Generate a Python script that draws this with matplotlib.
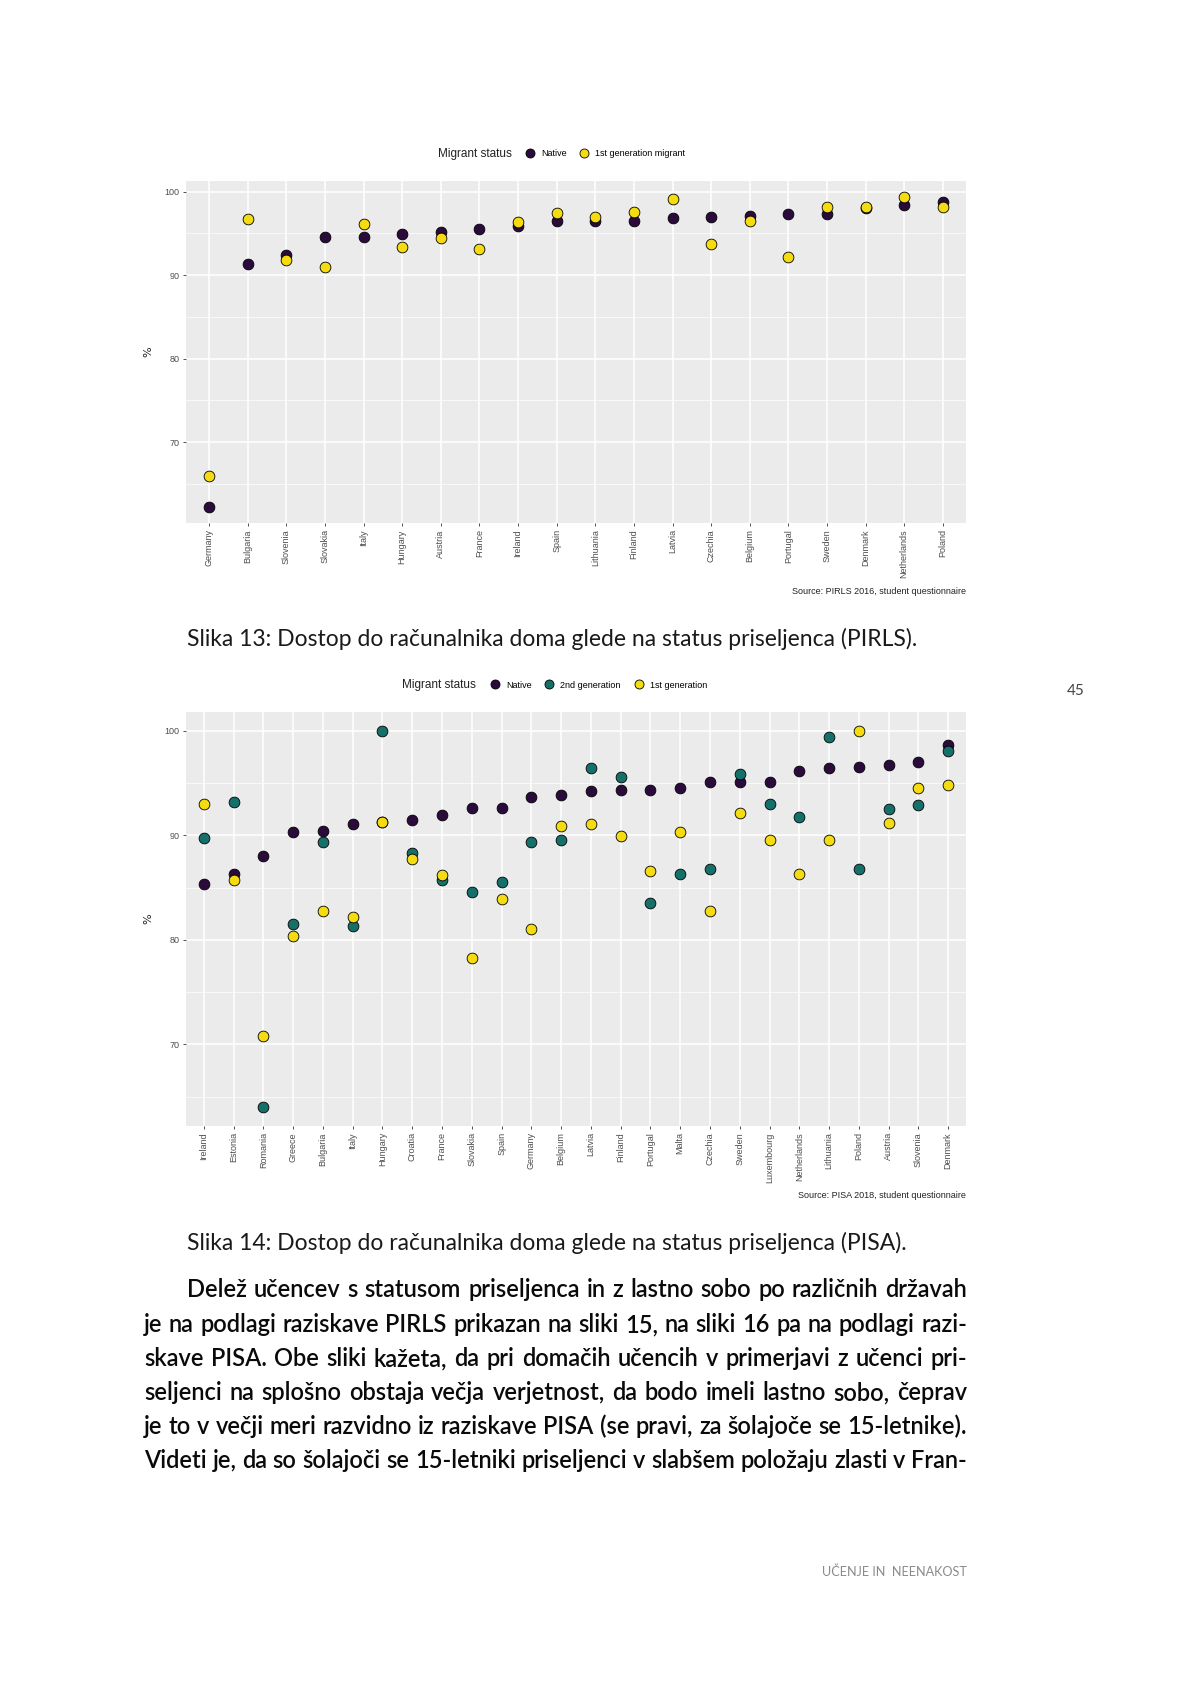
import numpy as np
import matplotlib.pyplot as plt
from matplotlib.lines import Line2D

W, H = 1182, 1684

# PIRLS 2016 - share with a computer at home (%)
pirls_countries = ["Germany", "Bulgaria", "Slovenia", "Slovakia", "Italy", "Hungary", "Austria",
                   "France", "Ireland", "Spain", "Lithuania", "Finland", "Latvia", "Czechia",
                   "Belgium", "Portugal", "Sweden", "Denmark", "Netherlands", "Poland"]
pirls_native = [62.2, 91.3, 92.4, 94.6, 94.6, 94.9, 95.2, 95.5, 95.9, 96.5,
                96.5, 96.5, 96.8, 97.0, 97.1, 97.3, 97.3, 98.0, 98.4, 98.8]
pirls_first = [66.0, 96.7, 91.8, 91.0, 96.1, 93.4, 94.4, 93.1, 96.4, 97.4,
               97.0, 97.5, 99.1, 93.7, 96.5, 92.2, 98.2, 98.2, 99.4, 98.2]

# PISA 2018
pisa_countries = ["Ireland", "Estonia", "Romania", "Greece", "Bulgaria", "Italy", "Hungary",
                  "Croatia", "France", "Slovakia", "Spain", "Germany", "Belgium", "Latvia",
                  "Finland", "Portugal", "Malta", "Czechia", "Sweden", "Luxembourg",
                  "Netherlands", "Lithuania", "Poland", "Austria", "Slovenia", "Denmark"]
pisa_native = [85.3, 86.3, 88.05, 90.35, 90.45, 91.1, 91.25, 91.5, 91.9, 92.6, 92.65, 93.7, 93.9,
               94.2, 94.3, 94.35, 94.5, 95.1, 95.1, 95.1, 96.2, 96.45, 96.5, 96.7, 97.05, 98.6]
pisa_second = [89.7, 93.2, 64.0, 81.5, 89.4, 81.3, 100.0, 88.3, 85.75, 84.6, 85.5, 89.4, 89.55,
               96.4, 95.6, 83.5, 86.3, 86.8, 95.9, 93.0, 91.8, 99.4, 86.8, 92.55, 92.95, 98.1]
pisa_first = [93.0, 85.75, 70.8, 80.4, 82.8, 82.2, 91.25, 87.7, 86.2, 78.3, 83.9, 81.05, 90.9,
              91.1, 89.9, 86.6, 90.3, 82.75, 92.1, 89.6, 86.3, 89.55, 100.0, 91.2, 94.5, 94.85]

C_NATIVE = "#2a0b3b"
C_SECOND = "#16706a"
C_FIRST = "#f4db12"

paragraph = [
    "Delež učencev s statusom priseljenca in z lastno sobo po različnih državah",
    "je na podlagi raziskave PIRLS prikazan na sliki 15, na sliki 16 pa na podlagi razi-",
    "skave PISA. Obe sliki kažeta, da pri domačih učencih v primerjavi z učenci pri-",
    "seljenci na splošno obstaja večja verjetnost, da bodo imeli lastno sobo, čeprav",
    "je to v večji meri razvidno iz raziskave PISA (se pravi, za šolajoče se 15-letnike).",
    "Videti je, da so šolajoči se 15-letniki priseljenci v slabšem položaju zlasti v Fran-",
]

fig = plt.figure(figsize=(W / 100, H / 100), dpi=100)
fig.patch.set_facecolor("white")
renderer = fig.canvas.get_renderer()


def fx(x):
    return x / W


def fy(y):
    return 1 - y / H


def add_panel(left, top, right, bottom):
    return fig.add_axes([fx(left), fy(bottom), (right - left) / W, (bottom - top) / H])


def style_panel(ax, categories, values):
    allv = np.concatenate([np.asarray(v, float) for v in values])
    lo, hi = np.nanmin(allv), np.nanmax(allv)
    pad = 0.05 * (hi - lo)
    n = len(categories)
    ax.set_facecolor("#EBEBEB")
    ax.set_xlim(-0.6, n - 1 + 0.6)
    ax.set_ylim(lo - pad, hi + pad)
    ax.set_xticks(range(n))
    ax.set_xticklabels(categories, rotation=90, ha="center", va="top",
                       fontsize=6.5, color="#4D4D4D", family="Liberation Sans")
    ax.set_yticks([70, 80, 90, 100])
    ax.set_yticklabels(["70", "80", "90", "100"], fontsize=6.5, color="#4D4D4D",
                       family="Liberation Sans")
    ax.set_yticks([65, 75, 85, 95], minor=True)
    ax.tick_params(which="major", length=2.5, width=0.6, color="#333333", pad=2)
    ax.tick_params(which="minor", length=0)
    ax.grid(which="major", color="white", lw=1.1)
    ax.grid(which="minor", axis="y", color="white", lw=0.5)
    ax.set_axisbelow(True)
    for s in ax.spines.values():
        s.set_visible(False)
    ax.set_ylabel("%", fontsize=8, color="#222222", labelpad=8)


def dots(ax, vals, color):
    x = np.arange(len(vals))
    ax.scatter(x, vals, s=60, c=color, edgecolors="black", linewidths=0.6, zorder=3)


def legend(ax, labels, colors, title_right, keys_left, y):
    fig.text(fx(title_right), fy(y), "Migrant status", ha="right", va="center",
             fontsize=8.5, color="#222222", family="Liberation Sans")
    handles = [Line2D([], [], ls="none", marker="o", markersize=6.5, markerfacecolor=c,
                      markeredgecolor="black", markeredgewidth=0.6) for c in colors]
    fig.legend(handles, labels, loc="center left", bbox_to_anchor=(fx(keys_left), fy(y)),
               ncol=len(labels), frameon=False, handlelength=1.2,
               handletextpad=0.6, columnspacing=1.4, borderpad=0,
               prop={"family": "Liberation Sans", "size": 6.5})


# ---- chart 1 (PIRLS)
ax1 = add_panel(186, 181, 966, 523)
style_panel(ax1, pirls_countries, [pirls_native, pirls_first])
dots(ax1, pirls_native, C_NATIVE)
dots(ax1, pirls_first, C_FIRST)
legend(ax1, ["Native", "1st generation migrant"], [C_NATIVE, C_FIRST], 512, 520, 153.5)
fig.text(fx(966), fy(592), "Source: PIRLS 2016, student questionnaire", ha="right",
         va="center", fontsize=6.5, color="#222222", family="Liberation Sans")

# ---- chart 2 (PISA)
ax2 = add_panel(186, 712, 966, 1126)
style_panel(ax2, pisa_countries, [pisa_native, pisa_second, pisa_first])
dots(ax2, pisa_native, C_NATIVE)
dots(ax2, pisa_second, C_SECOND)
dots(ax2, pisa_first, C_FIRST)
legend(ax2, ["Native", "2nd generation", "1st generation"], [C_NATIVE, C_SECOND, C_FIRST],
       476, 485, 685)
fig.text(fx(966), fy(1195), "Source: PISA 2018, student questionnaire", ha="right",
         va="center", fontsize=6.5, color="#222222", family="Liberation Sans")


# ---- page text
def text_width(s, size, **kw):
    t = fig.text(0, 0, s, fontsize=size, **kw)
    w = t.get_window_extent(renderer).width
    t.remove()
    return w


def fit_size(s, width, start, **kw):
    return start * width / text_width(s, start, **kw)


cap_kw = dict(family="Lato", weight="normal", color="#1a1a1a")
cap1 = "Slika 13: Dostop do računalnika doma glede na status priseljenca (PIRLS)."
cap2 = "Slika 14: Dostop do računalnika doma glede na status priseljenca (PISA)."
cap_size = fit_size(cap1, 731, 15, **cap_kw)
fig.text(fx(187), fy(646), cap1, ha="left", va="baseline", fontsize=cap_size, **cap_kw)
fig.text(fx(187), fy(1250), cap2, ha="left", va="baseline", fontsize=cap_size, **cap_kw)

fig.text(fx(1076), fy(691), "45", ha="center", va="center", fontsize=11,
         color="#444444", family="Lato")

body_kw = dict(family="Lato", weight="semibold", color="#0a0a0a")
line_base = [1297, 1332, 1366, 1400, 1434, 1468]
body_right = 967
starts = [187, 144, 144, 144, 144, 144]

size = 16.0
space = 0.22
ratios = []
for s, x0 in zip(paragraph, starts):
    words = s.split(" ")
    nat = sum(text_width(w, size, **body_kw) for w in words) + space * size * 100 / 72 * (len(words) - 1)
    ratios.append((body_right - x0) / nat)
size = size * min(ratios) * 0.995

for s, x0, y in zip(paragraph, starts, line_base):
    words = s.split(" ")
    ws = [text_width(w, size, **body_kw) for w in words]
    gap = (body_right - x0 - sum(ws)) / (len(words) - 1)
    x = x0
    for w, wd in zip(words, ws):
        fig.text(fx(x), fy(y), w, ha="left", va="baseline", fontsize=size, **body_kw)
        x += wd + gap

foot = "UČENJE IN  NEENAKOST"
foot_kw = dict(family="Lato", color="#8a8a8a")
fig.text(fx(967), fy(1572), foot, ha="right", va="center",
         fontsize=fit_size(foot, 145, 9, **foot_kw), **foot_kw)

fig.savefig("out.png", dpi=100)
plt.close(fig)
